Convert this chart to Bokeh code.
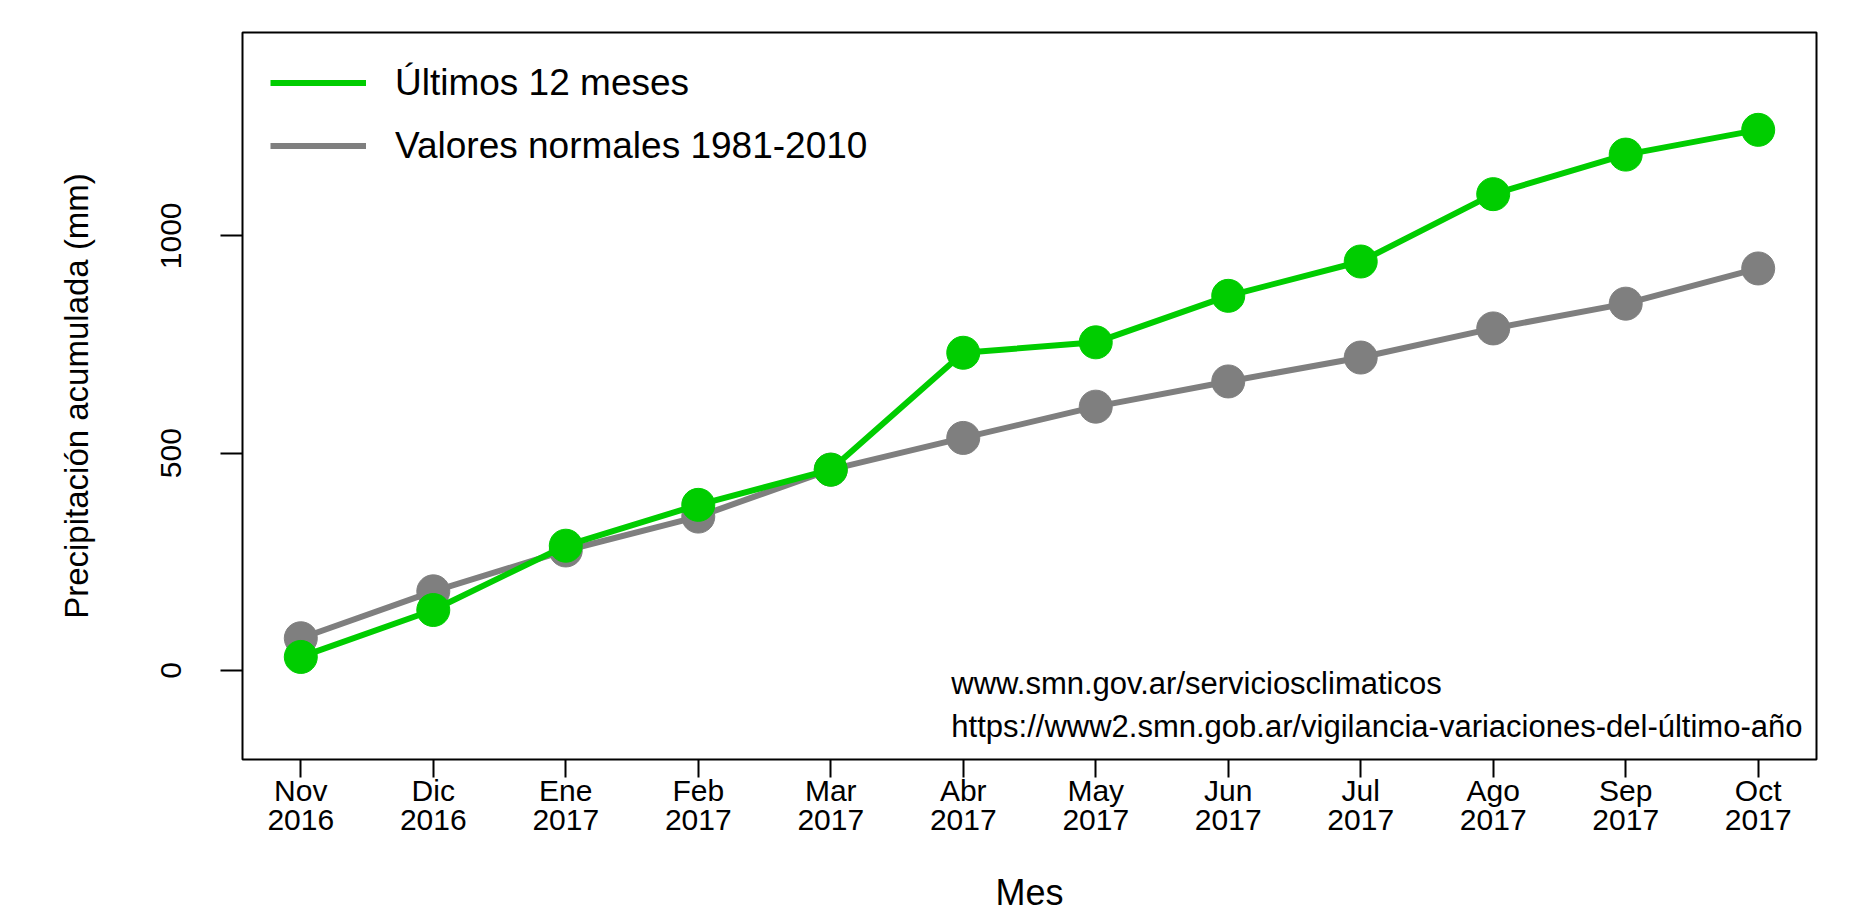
from bokeh.plotting import figure
from bokeh.models import Range1d, FixedTicker, Legend, LegendItem, Label
from bokeh.embed import file_html
from bokeh.resources import INLINE

months = ["Nov", "Dic", "Ene", "Feb", "Mar", "Abr", "May", "Jun", "Jul", "Ago", "Sep", "Oct"]
years = ["2016", "2016", "2017", "2017", "2017", "2017", "2017", "2017", "2017", "2017", "2017", "2017"]
ultimos = [31, 139, 287, 381, 462, 731, 755, 862, 941, 1096, 1187, 1244]
normales = [74, 182, 276, 354, 462, 535, 607, 665, 720, 787, 844, 925]
y_ticks = [0, 500, 1000]
x = list(range(1, len(months) + 1))

GREEN = "#00CD00"
GRAY = "#7F7F7F"
FONT = "Liberation Sans"

p = figure(width=1852, height=915, output_backend="svg", toolbar_location=None,
           x_range=Range1d(0.56, 12.44), y_range=Range1d(-205, 1468),
           min_border_left=242, min_border_right=36, min_border_top=32, min_border_bottom=156)

p.grid.visible = False
p.outline_line_color = "black"
p.outline_line_width = 2
p.background_fill_color = "white"
p.border_fill_color = "white"

l_norm = p.line(x, normales, line_color=GRAY, line_width=6)
p.scatter(x, normales, size=33, fill_color=GRAY, line_color=GRAY)
l_ult = p.line(x, ultimos, line_color=GREEN, line_width=6)
p.scatter(x, ultimos, size=33, fill_color=GREEN, line_color=GREEN)

# x axis
xa = p.xaxis[0]
xa.ticker = FixedTicker(ticks=x)
xa.major_label_overrides = {i: f"{m}\n{yr}" for i, m, yr in zip(x, months, years)}
xa.axis_line_color = None
xa.major_tick_out = 18
xa.major_tick_in = 0
xa.major_tick_line_width = 2
xa.minor_tick_line_color = None
xa.major_label_text_font = FONT
xa.major_label_text_font_size = "30px"
xa.major_label_text_color = "black"
xa.major_label_text_line_height = 0.88
xa.major_label_standoff = -4
xa.axis_label = "Mes"
xa.axis_label_text_font = FONT
xa.axis_label_text_font_size = "36px"
xa.axis_label_text_font_style = "normal"
xa.axis_label_text_color = "black"
xa.axis_label_standoff = 33

# y axis
ya = p.yaxis[0]
ya.ticker = FixedTicker(ticks=y_ticks)
ya.axis_line_color = None
ya.major_tick_out = 22
ya.major_tick_in = 0
ya.major_tick_line_width = 2
ya.minor_tick_line_color = None
ya.major_label_orientation = "vertical"
ya.major_label_text_font = FONT
ya.major_label_text_font_size = "30px"
ya.major_label_text_color = "black"
ya.major_label_standoff = 39
ya.axis_label = "Precipitación acumulada (mm)"
ya.axis_label_text_font = FONT
ya.axis_label_text_font_size = "33px"
ya.axis_label_text_font_style = "normal"
ya.axis_label_text_color = "black"
ya.axis_label_standoff = 64

legend = Legend(items=[LegendItem(label="Últimos 12 meses", renderers=[l_ult]),
                       LegendItem(label="Valores normales 1981-2010", renderers=[l_norm])],
                location="top_left", margin=28, padding=0,
                glyph_width=96, glyph_height=45, label_height=45, spacing=18,
                label_standoff=29, label_text_font=FONT, label_text_font_size="37px",
                label_text_color="black", border_line_color=None, background_fill_alpha=0)
p.add_layout(legend)

for ty, txt in [(-30, "www.smn.gov.ar/serviciosclimaticos"),
                (-129, "https://www2.smn.gob.ar/vigilancia-variaciones-del-último-año")]:
    p.add_layout(Label(x=5.91, y=ty, text=txt, text_font=FONT, text_font_size="31px",
                       text_baseline="middle", text_align="left", text_color="black"))

open("out.html", "w").write(file_html(p, INLINE))
